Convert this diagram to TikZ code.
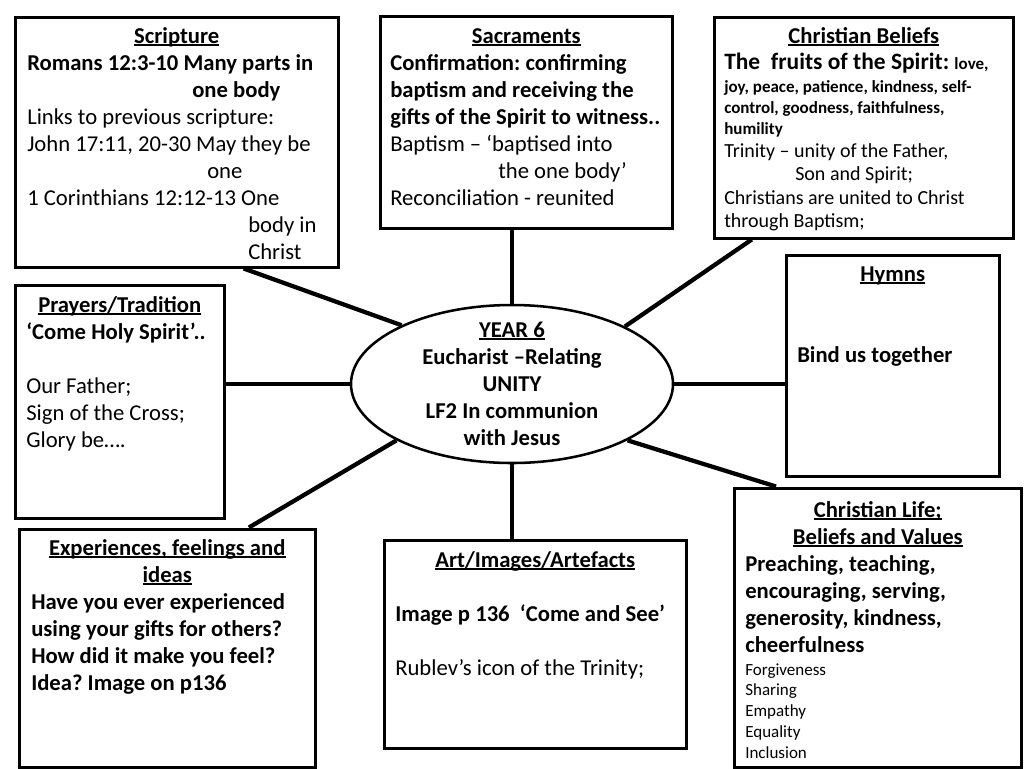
\documentclass[tikz,border=0pt]{standalone}
\usepackage{fontspec}
\setmainfont{Carlito}
\usetikzlibrary{shapes.geometric,calc}
\newlength\px \setlength\px{0.75pt}
\newsavebox\ulbox
\newcommand\ul[1]{\leavevmode\sbox\ulbox{#1}\rlap{\rule[-2.6\px]{\wd\ulbox}{1.7\px}}\usebox\ulbox}
\newcommand\ctitle[2]{\hspace*{#1\px}\makebox[0pt]{\ul{\textbf{#2}}}\par}
\newcommand\ind[1]{\hspace*{#1\px}}
\newcommand\nsp{\spaceskip=0pt\xspaceskip=0pt\frenchspacing\relax}
\begin{document}
\begin{tikzpicture}[x=0.75pt,y=-0.75pt,
  box/.style={draw,rectangle,line width=2.25pt,inner sep=0pt},
  conn/.style={line width=3.2pt},
  txt/.style={anchor=base west,inner sep=0pt,align=left,text width=400\px,
    font=\fontsize{17}{20.25}\selectfont}]
\path[fill=white,use as bounding box] (0,0) rectangle (1024,768);

% boxes
\node[box,minimum width=323\px,minimum height=250\px] (scr) at (176.5,142) {};
\node[box,minimum width=292\px,minimum height=212\px] (sac) at (526,122) {};
\node[box,minimum width=299\px,minimum height=221\px] (bel) at (863.5,127.5) {};
\node[box,minimum width=213\px,minimum height=221\px] (hym) at (892.5,365.5) {};
\node[box,minimum width=209\px,minimum height=233\px] (pra) at (119.5,401.5) {};
\node[box,minimum width=296\px,minimum height=238\px] (exp) at (167,648) {};
\node[box,minimum width=302\px,minimum height=208\px] (art) at (535,644) {};
\node[box,minimum width=287\px,minimum height=279\px] (lif) at (877.5,627.5) {};
\node[draw,ellipse,line width=1.9pt,inner sep=0pt,minimum width=322\px,minimum height=158\px] (ell) at (512,384) {};

% connectors
\draw[conn] ($(scr.south west)!0.706!(scr.south east)$) -- (ell.152.6);
\draw[conn] (ell.north) -- (ell.north |- sac.south);
\draw[conn] ($(bel.south west)!0.13!(bel.south east)$) -- (ell.27);
\draw[conn] (ell.east) -- (ell.east -| hym.west);
\draw[conn] (ell.west) -- (ell.west -| pra.east);
\draw[conn] ($(exp.north west)!0.774!(exp.north east)$) -- (ell.206.6);
\draw[conn] (ell.south) -- (ell.south |- art.north);
\draw[conn] ($(lif.north west)!0.15!(lif.north east)$) -- (ell.334);

% texts
\node[txt] (scrt) at (27,43) {\nsp\ctitle{149.5}{Scripture}
\textbf{Romans 12:3-10 Many parts in}\par
\ind{165}\textbf{one body}\par
Links to previous scripture:\par
John 17:11, 20-30 May they be\par
\ind{180}one\par
1 Corinthians 12:12-13 One\par
\ind{221}body in\par
\ind{221}Christ\par};

\node[txt] (sact) at (390,43) {\nsp\ctitle{136}{Sacraments}
\textbf{Confirmation: confirming}\par
\textbf{baptism and receiving the}\par
\textbf{gifts of the Spirit to witness..}\par
Baptism – ‘baptised into\par
\ind{108}the one body’\par
Reconciliation - reunited\par};

\node[txt] (belt) at (724,43) {\nsp\ctitle{139.5}{Christian Beliefs}
\fontsize{17.6}{19.5}\selectfont\textbf{The\ \ fruits of the Spirit: {\fontsize{12.75}{15}\selectfont love,}}\par
\fontsize{12.75}{17.25}\selectfont\textbf{joy, peace, patience, kindness, self-}\par
\fontsize{12.75}{15.75}\selectfont\textbf{control, goodness, faithfulness,}\par
\textbf{humility}\par
\fontsize{15}{17.6}\selectfont Trinity – unity of the Father,\par
\ind{71}Son and Spirit;\par
Christians are united to Christ\par
through Baptism;\par};

\node[txt] (hymt) at (797,281) {\nsp\ctitle{95.5}{Hymns}
{\fontsize{17}{60.75}\selectfont\textbf{Bind us together}\par}};

\node[txt] (prat) at (26,312) {\nsp\ctitle{93.5}{Prayers/Tradition}
\textbf{‘Come Holy Spirit’..}\par
\mbox{}\par
Our Father;\par
Sign of the Cross;\par
Glory be….\par};

\node[txt] (expt) at (31,555) {\nsp\ctitle{136}{Experiences, feelings and}
\ctitle{136}{ideas}
\textbf{Have you ever experienced}\par
\textbf{using your gifts for others?}\par
\textbf{How did it make you feel?}\par
\textbf{Idea? Image on p136}\par};

\node[txt] (artt) at (395,567) {\nsp\ctitle{140}{Art/Images/Artefacts}
\mbox{}\par
\textbf{Image p 136\ \ ‘Come and See’}\par
\mbox{}\par
Rublev’s icon of the Trinity;\par};

\node[txt] (lift) at (745,517) {\nsp\ctitle{132.5}{Christian Life;}
\ctitle{132.5}{Beliefs and Values}
\textbf{Preaching, teaching,}\par
\textbf{encouraging, serving,}\par
\textbf{generosity, kindness,}\par
\textbf{cheerfulness}\par
\fontsize{12.75}{17.25}\selectfont Forgiveness\par
\fontsize{12.75}{15.6}\selectfont Sharing\par
Empathy\par
Equality\par
Inclusion\par};

\node[anchor=base,inner sep=0pt,text width=300\px,
  font=\fontsize{17}{20.25}\selectfont\bfseries] (ellt) at (512,337)
  {\nsp\centering\ul{YEAR 6}\par Eucharist –Relating\par UNITY\par LF2 In communion\par with Jesus\par};
\end{tikzpicture}
\end{document}
